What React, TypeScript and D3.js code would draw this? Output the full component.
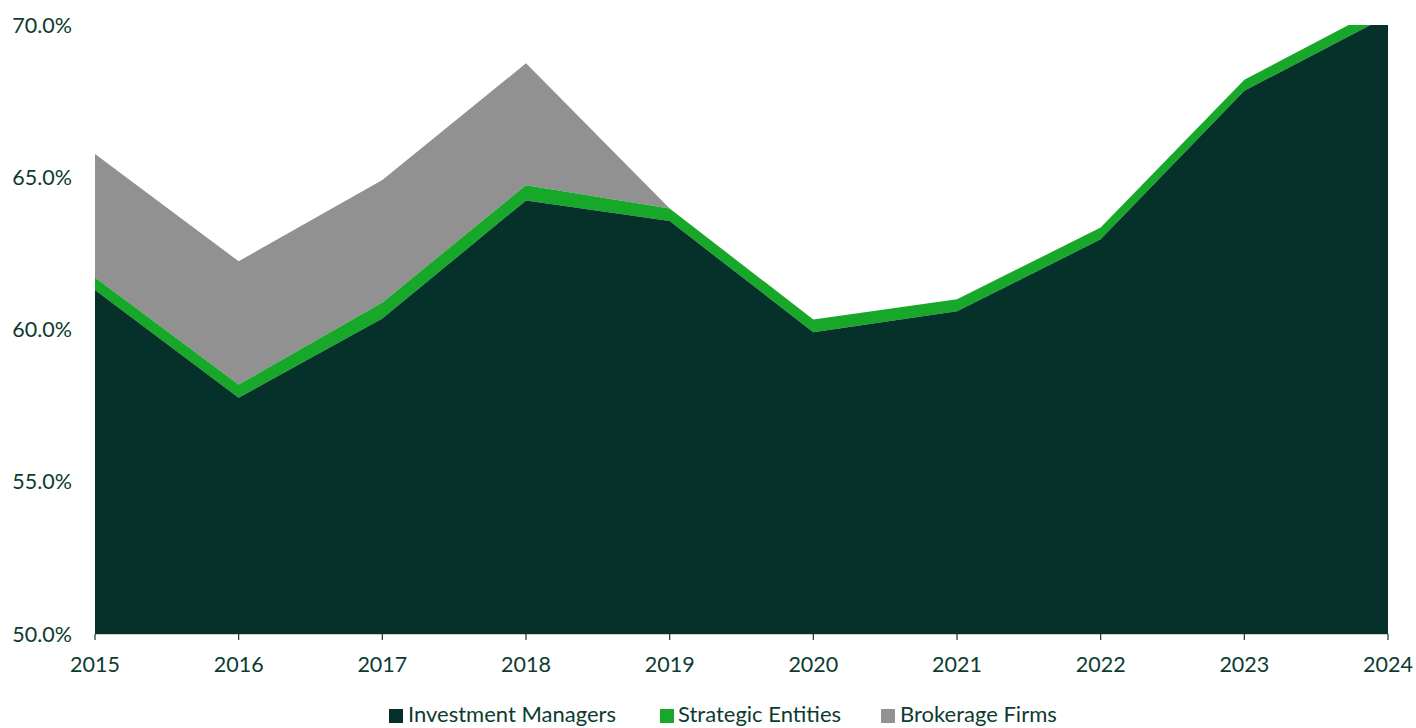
import React from "react";
import * as d3 from "d3";

const years = [2015, 2016, 2017, 2018, 2019, 2020, 2021, 2022, 2023, 2024];
const investmentManagers = [61.3, 57.76, 60.36, 64.24, 63.56, 59.91, 60.6, 62.96, 67.84, 70.3];
const strategicEntities = [0.41, 0.43, 0.53, 0.5, 0.41, 0.42, 0.39, 0.39, 0.36, 0.38];
const brokerageFirms = [4.05, 4.05, 4.02, 4.0, 0, 0, 0, 0, 0, 0];
const yTicks = [50, 55, 60, 65, 70];
const seriesNames = ["Investment Managers", "Strategic Entities", "Brokerage Firms"];
const seriesColors = ["#06312a", "#17a82a", "#919191"];

const W = 1416;
const H = 728;
const left = 95;
const right = 1388;
const top = 25;
const bottom = 634;
const FONT = "Lato, 'Open Sans', sans-serif";
const TEXT = "#0d3b31";

export default function App() {
  const x = d3.scaleLinear().domain([2015, 2024]).range([left, right]);
  const y = d3.scaleLinear().domain([50, 70]).range([bottom, top]);

  const layers = [0, 1, 2].map((li) =>
    years.map((yr, i) => {
      const im = investmentManagers[i];
      const se = strategicEntities[i];
      const bf = brokerageFirms[i];
      const base = li === 0 ? 50 : li === 1 ? im : im + se;
      const val = li === 0 ? im : li === 1 ? im + se : im + se + bf;
      return { year: yr, y0: base, y1: val };
    })
  );

  const area = d3
    .area<any>()
    .x((d) => x(d.year))
    .y0((d) => y(d.y0))
    .y1((d) => y(d.y1));

  const legendItems = [
    { sx: 389, tx: 408 },
    { sx: 660, tx: 678 },
    { sx: 881, tx: 900 },
  ];

  return (
    <svg
      width={W}
      height={H}
      style={{ position: "absolute", left: 0, top: 0, display: "block", background: "#fff" }}
    >
      <defs>
        <clipPath id="plotclip">
          <rect x={left} y={top} width={right - left} height={bottom - top} />
        </clipPath>
      </defs>
      <g clipPath="url(#plotclip)">
        {[2, 1, 0].map((li) => (
          <path key={li} d={area(layers[li]) || ""} fill={seriesColors[li]} />
        ))}
      </g>
      <line x1={left} x2={right} y1={bottom + 0.5} y2={bottom + 0.5} stroke="#c9cfcd" strokeWidth={1} />
      {years.map((yr) => (
        <g key={yr}>
          <line x1={x(yr)} x2={x(yr)} y1={bottom} y2={bottom + 6} stroke={TEXT} strokeWidth={1.2} />
          <text x={x(yr)} y={672} textAnchor="middle" fontFamily={FONT} fontSize={21.5} fill={TEXT}>
            {yr}
          </text>
        </g>
      ))}
      {yTicks.map((t) => (
        <text
          key={t}
          x={72}
          y={y(t) + 7.5}
          textAnchor="end"
          fontFamily={FONT}
          fontSize={21.5}
          fill={TEXT}
        >
          {t.toFixed(1) + "%"}
        </text>
      ))}
      {seriesNames.map((n, i) => (
        <g key={n}>
          <rect x={legendItems[i].sx} y={709} width={14} height={14} fill={seriesColors[i]} />
          <text x={legendItems[i].tx} y={722} fontFamily={FONT} fontSize={22} fill={TEXT}>
            {n}
          </text>
        </g>
      ))}
    </svg>
  );
}
